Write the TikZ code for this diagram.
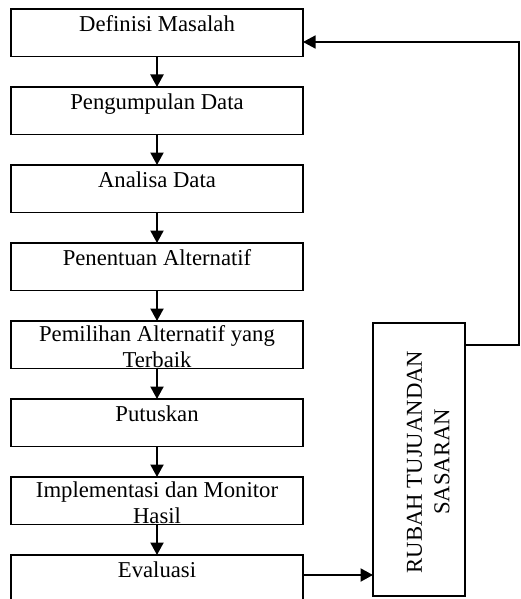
\documentclass[tikz,border=0pt]{standalone}
\usepackage{fontspec}
\setmainfont{Liberation Serif}
\usetikzlibrary{arrows.meta}
\tikzset{
  stepbox/.style={draw, rectangle, line width=1.5pt, inner sep=0pt, outer sep=0pt,
    minimum width=292pt, minimum height=47.5pt},
  sidebox/.style={draw, rectangle, line width=1.5pt, inner sep=0pt, outer sep=0pt,
    minimum width=92pt, minimum height=273pt},
  txt/.style={font=\fontsize{22.7}{25.5}\selectfont, align=center, inner sep=0pt, anchor=north},
  rtxt/.style={font=\fontsize{22.7}{27.5}\selectfont, align=center, inner sep=0pt, anchor=north, rotate=90},
  arr/.style={line width=2.1pt, -{Triangle[width=13pt,length=12.5pt]}},
  fbk/.style={line width=1.5pt, -{Triangle[width=13pt,length=12.5pt]}}
}
\begin{document}
\begin{tikzpicture}[x=1pt,y=-1pt]
\useasboundingbox (0,0) rectangle (520,599);
\clip (0,0) rectangle (520,599);
% step boxes
\node[stepbox] (b1) at (157,32.75) {};
\node[stepbox] (b2) at (157,110.75) {};
\node[stepbox] (b3) at (157,188.75) {};
\node[stepbox] (b4) at (157,266.75) {};
\node[stepbox] (b5) at (157,344.75) {};
\node[stepbox] (b6) at (157,422.75) {};
\node[stepbox] (b7) at (157,500.75) {};
\node[stepbox] (b8) at (157,578.75) {};
% side box
\node[sidebox] (rb) at (419,459.5) {};
% arrows between steps
\draw[arr] (b1.south) -- (b2.north);
\draw[arr] (b2.south) -- (b3.north);
\draw[arr] (b3.south) -- (b4.north);
\draw[arr] (b4.south) -- (b5.north);
\draw[arr] (b5.south) -- (b6.north);
\draw[arr] (b6.south) -- (b7.north);
\draw[arr] (b7.south) -- (b8.north);
% texts
\node[txt] (t1) at ([yshift=-4.8pt]b1.north) {\strut Definisi Masalah};
\node[txt] (t2) at ([yshift=-4.8pt]b2.north) {\strut Pengumpulan Data};
\node[txt] (t3) at ([yshift=-4.8pt]b3.north) {\strut Analisa Data};
\node[txt] (t4) at ([yshift=-4.8pt]b4.north) {\strut Penentuan Alternatif};
\node[txt] (t5) at ([yshift=-2.8pt]b5.north) {\strut Pemilihan Alternatif yang\\Terbaik};
\node[txt] (t6) at ([yshift=-4.8pt]b6.north) {\strut Putuskan};
\node[txt] (t7) at ([yshift=-2.8pt]b7.north) {\strut Implementasi dan Monitor\\Hasil};
\node[txt] (t8) at ([yshift=-4.8pt]b8.north) {\strut Evaluasi};
\node[rtxt] (rt) at (402.4,462) {\strut RUBAH TUJUANDAN\\SASARAN};
% evaluasi to side box
\coordinate (evy) at (340,575);
\draw[arr] (b8.east |- evy) -- (rb.west |- evy);
% feedback loop
\coordinate (c1) at (519,345);
\coordinate (c2) at (519,42);
\draw[fbk] (rb.east |- c1) -- (c1) -- (c2) -- (b1.east |- c2);
\end{tikzpicture}
\end{document}
